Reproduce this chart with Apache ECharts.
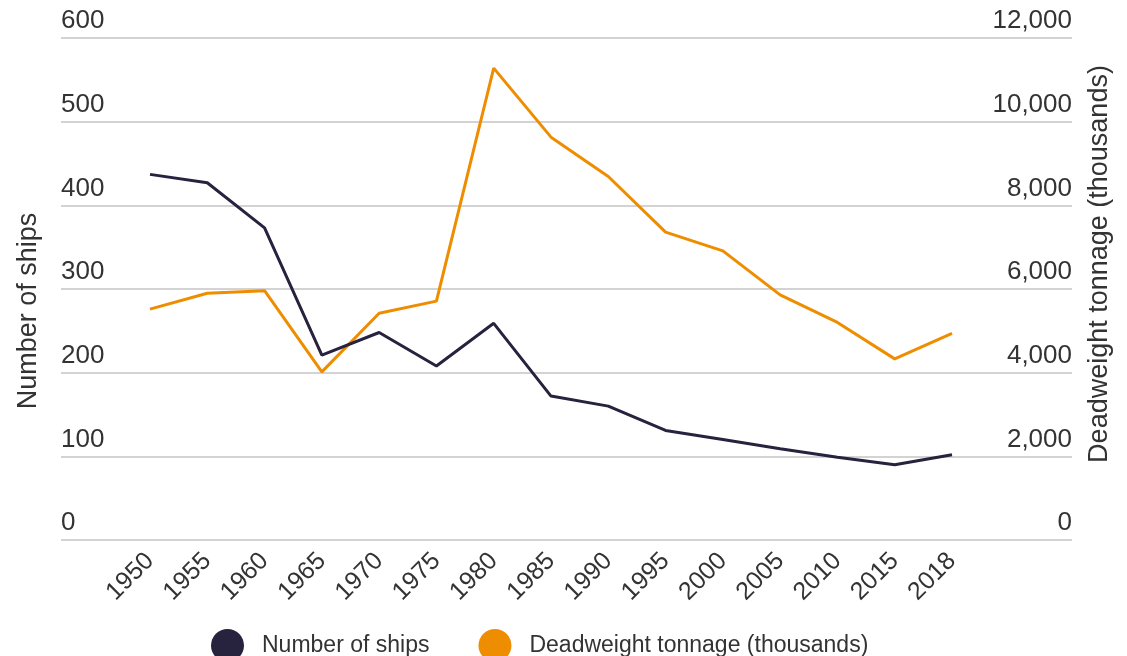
<!DOCTYPE html>
<html>
<head>
<meta charset="utf-8">
<script src="https://cdn.jsdelivr.net/npm/echarts@6/dist/echarts.min.js"></script>
<style>
html,body{margin:0;padding:0;background:#fff;}
#chart{width:1127px;height:656px;}
</style>
</head>
<body>
<div id="chart"></div>
<script>
const years = ['1950','1955','1960','1965','1970','1975','1980','1985','1990','1995','2000','2005','2010','2015','2018'];
const ships = [437, 427, 373, 221, 248, 208, 259, 172, 160, 131, 120, 109, 99, 90, 102];
const tonnage = [5520, 5900, 5960, 4020, 5420, 5710, 11280, 9630, 8690, 7360, 6910, 5860, 5200, 4330, 4940];
const leftTicks = [0, 100, 200, 300, 400, 500, 600];
const rightTicks = [0, 2000, 4000, 6000, 8000, 10000, 12000];

const FONT = 'Liberation Sans';
const TXT = '#333333';
const NAVY = '#27223d';
const ORANGE = '#ef8d00';
const GRID = '#d3d3d3';

const chart = echarts.init(document.getElementById('chart'));
chart.setOption({
  animation: false,
  textStyle: {fontFamily: FONT},
  grid: [
    {left: 61, right: 55, top: 38, bottom: 116},
    {left: 121.35, right: 146.35, top: 38, bottom: 116}
  ],
  legend: {
    left: 206, top: 624,
    icon: 'circle', itemWidth: 33, itemHeight: 33, itemGap: 49,
    textStyle: {fontFamily: FONT, fontSize: 23, color: TXT, padding: [0, 0, 0, 13]},
    data: ['Number of ships', 'Deadweight tonnage (thousands)']
  },
  xAxis: [
    {gridIndex: 0, type: 'value', show: false, min: 0, max: 1},
    {
      gridIndex: 1, type: 'category', data: years, boundaryGap: true,
      axisLine: {show: false}, axisTick: {show: false},
      axisLabel: {rotate: 45, margin: 17, fontSize: 25, color: TXT, fontFamily: FONT, interval: 0}
    }
  ],
  yAxis: [
    {
      gridIndex: 0, type: 'value', position: 'left', min: leftTicks[0], max: leftTicks[leftTicks.length-1], interval: 100,
      name: 'Number of ships', nameLocation: 'middle', nameGap: 19,
      nameTextStyle: {fontFamily: FONT, fontSize: 27, color: TXT, padding: [0, 44, 0, 0]},
      axisLine: {show: false}, axisTick: {show: false},
      axisLabel: {inside: true, margin: 0, verticalAlign: 'bottom', padding: [0, 0, 4, 0], fontSize: 26, color: TXT, fontFamily: FONT},
      splitLine: {show: true, lineStyle: {color: GRID, width: 2}}
    },
    {
      gridIndex: 0, type: 'value', position: 'right', min: rightTicks[0], max: rightTicks[rightTicks.length-1], interval: 2000,
      name: 'Deadweight tonnage (thousands)', nameLocation: 'middle', nameGap: 14,
      nameTextStyle: {fontFamily: FONT, fontSize: 27, color: TXT, padding: [0, 0, 0, 50]},
      axisLine: {show: false}, axisTick: {show: false},
      axisLabel: {inside: true, margin: 0, verticalAlign: 'bottom', padding: [0, 0, 4, 0], fontSize: 26, color: TXT, fontFamily: FONT,
        formatter: v => v.toLocaleString('en-US')},
      splitLine: {show: false}
    },
    {gridIndex: 1, type: 'value', min: 0, max: 600, interval: 100, show: false, splitLine: {show: false}},
    {gridIndex: 1, type: 'value', min: 0, max: 12000, interval: 2000, show: false, splitLine: {show: false}}
  ],
  series: [
    {
      name: 'Number of ships', type: 'line', xAxisIndex: 1, yAxisIndex: 2, data: ships,
      symbol: 'none', lineStyle: {color: NAVY, width: 3}, itemStyle: {color: NAVY}, z: 3
    },
    {
      name: 'Deadweight tonnage (thousands)', type: 'line', xAxisIndex: 1, yAxisIndex: 3, data: tonnage,
      symbol: 'none', lineStyle: {color: ORANGE, width: 3}, itemStyle: {color: ORANGE}, z: 2
    }
  ]
});
</script>
</body>
</html>
